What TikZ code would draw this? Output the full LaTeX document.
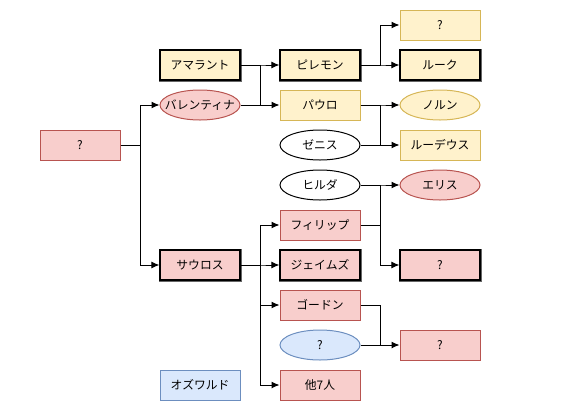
\documentclass[tikz,border=0pt]{standalone}
\usepackage{fontspec}
\setmainfont{Noto Sans CJK JP}
\usetikzlibrary{shapes.geometric,arrows.meta}
\definecolor{yfill}{HTML}{FFF2CC}
\definecolor{ydraw}{HTML}{D6B656}
\definecolor{rfill}{HTML}{F8CECC}
\definecolor{rdraw}{HTML}{B85450}
\definecolor{bfill}{HTML}{DAE8FC}
\definecolor{bdraw}{HTML}{6C8EBF}
\definecolor{tgray}{HTML}{666666}
\newcommand{\zb}[1]{\makebox[0pt]{#1}}
\tikzset{
  base/.style={minimum width=80pt, minimum height=30pt, inner sep=0pt, line width=1pt, font=\fontsize{11.8}{14}\selectfont},
  rbox/.style={base, rectangle},
  ell/.style={base, ellipse},
  yel/.style={fill=yfill, draw=ydraw},
  red/.style={fill=rfill, draw=rdraw},
  blu/.style={fill=bfill, draw=bdraw},
  wht/.style={fill=white, draw=black},
  thickb/.style={preaction={draw=tgray, line width=3pt}, draw=black, line width=1.2pt},
  arr/.style={line width=1pt, -{Latex[length=8pt,width=7pt]}},
  ln/.style={line width=1pt}
}
\begin{document}
\begin{tikzpicture}[x=1pt,y=-1pt]
\useasboundingbox (0,0) rectangle (583,413);
\node[rbox,red] (root) at (80,145) {?};
\node[rbox,yel,thickb] (amar) at (200,65) {アマラント};
\node[ell,red] (val) at (200,105) {\zb{バレンティナ}};
\node[rbox,red,thickb] (saur) at (200,265) {サウロス};
\node[rbox,blu] (osw) at (200,385) {オズワルド};
\node[rbox,yel,thickb] (pil) at (320,65) {ピレモン};
\node[rbox,yel] (pau) at (320,105) {パウロ};
\node[ell,wht] (zen) at (320,145) {\zb{ゼニス}};
\node[ell,wht] (hil) at (320,185) {\zb{ヒルダ}};
\node[rbox,red] (fil) at (320,225) {フィリップ};
\node[rbox,red,thickb] (jam) at (320,265) {ジェイムズ};
\node[rbox,red] (gor) at (320,305) {ゴードン};
\node[ell,blu] (bq) at (320,345) {\zb{?}};
\node[rbox,red] (oth) at (320,385) {他7人};
\node[rbox,yel] (q1) at (440,25) {?};
\node[rbox,yel,thickb] (luk) at (440,65) {ルーク};
\node[ell,yel] (nor) at (440,105) {\zb{ノルン}};
\node[rbox,yel] (rud) at (440,145) {ルーデウス};
\node[ell,red] (eri) at (440,185) {\zb{エリス}};
\node[rbox,red,thickb] (q2) at (440,265) {?};
\node[rbox,red] (q3) at (440,345) {?};
% generation 1
\draw[arr] (root.east) -- (140,145) |- (val.west);
\draw[arr] (root.east) -- (140,145) |- (saur.west);
% generation 2
\draw[arr] (amar.east) -- (260,65) |- (pil.west);
\draw[arr] (amar.east) -- (260,65) |- (pau.west);
\draw[ln] (val.east) -- (260,105);
\draw[arr] (saur.east) -- (260,265) |- (fil.west);
\draw[arr] (saur.east) -- (260,265) |- (jam.west);
\draw[arr] (saur.east) -- (260,265) |- (gor.west);
\draw[arr] (saur.east) -- (260,265) |- (oth.west);
% generation 3
\draw[arr] (pil.east) -- (380,65) |- (q1.west);
\draw[arr] (pil.east) -- (380,65) |- (luk.west);
\draw[arr] (pau.east) -- (380,105) |- (nor.west);
\draw[arr] (pau.east) -- (380,105) |- (rud.west);
\draw[ln] (zen.east) -- (380,145);
\draw[arr] (hil.east) -- (380,185) |- (eri.west);
\draw[arr] (hil.east) -- (380,185) |- (q2.west);
\draw[ln] (fil.east) -- (380,225);
\draw[arr] (gor.east) -- (380,305) |- (q3.west);
\draw[ln] (bq.east) -- (380,345);
\end{tikzpicture}
\end{document}
